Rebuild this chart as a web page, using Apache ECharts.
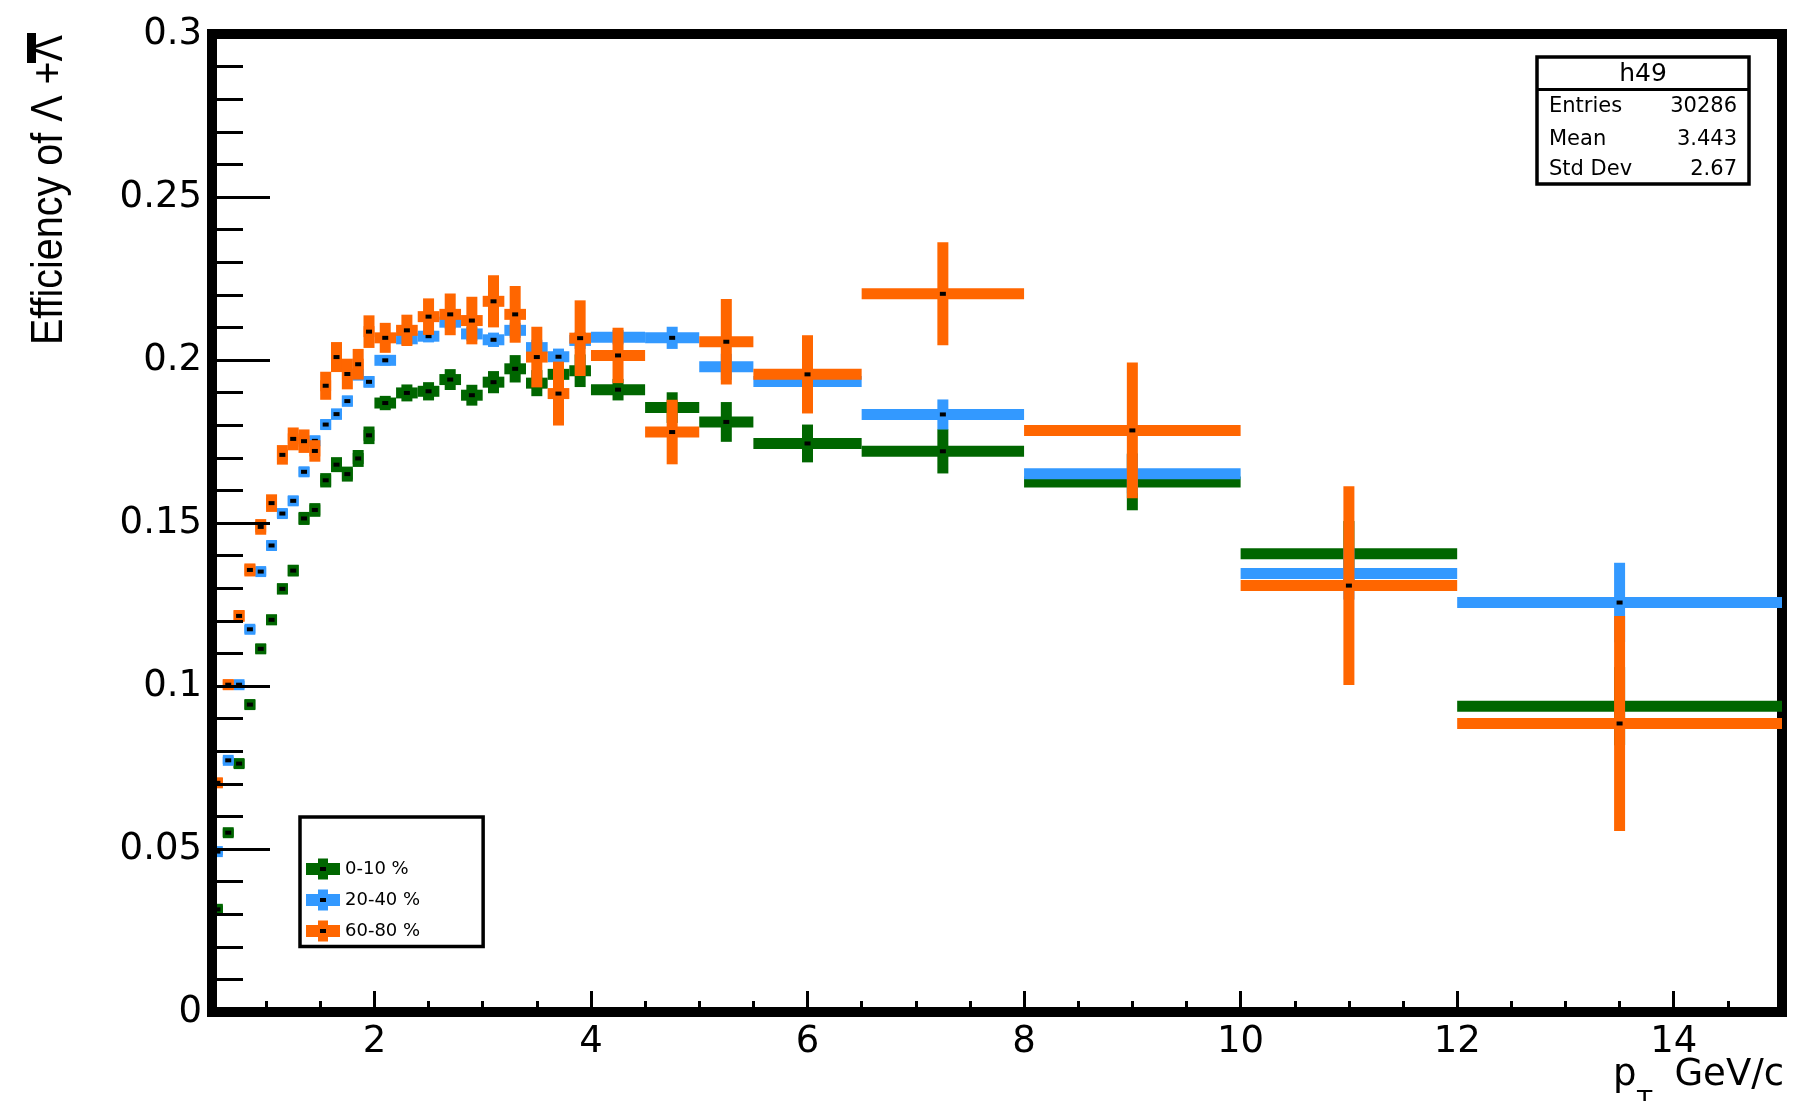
<!DOCTYPE html>
<html>
<head>
<meta charset="utf-8">
<title>Efficiency of Lambda + anti-Lambda vs pT</title>
<script src="https://cdn.jsdelivr.net/npm/echarts@6/dist/echarts.min.js"></script>
<style>
  html, body { margin: 0; padding: 0; background: #fff; }
  #chart { width: 1794px; height: 1101px; }
</style>
</head>
<body>
<div id="chart"></div>
<script>
// pT bin edges (GeV/c)
const binEdges = [0.5, 0.6, 0.7, 0.8, 0.9, 1.0, 1.1, 1.2, 1.3, 1.4, 1.5, 1.6, 1.7, 1.8, 1.9, 2.0,
  2.2, 2.4, 2.6, 2.8, 3.0, 3.2, 3.4, 3.6, 3.8, 4.0,
  4.5, 5.0, 5.5, 6.5, 8, 10, 12, 15];

const centralityLabels = ['0-10 %', '20-40 %', '60-80 %'];

// efficiency per bin and its uncertainty, 0-10 %
const eff0to10 = [0.0315, 0.0550, 0.0762, 0.0943, 0.1114, 0.1203, 0.1298, 0.1354, 0.1514, 0.1540,
  0.1631, 0.1679, 0.1650, 0.1698, 0.1769,
  0.1868, 0.1899, 0.1904, 0.1940, 0.1892, 0.1932, 0.1973, 0.1929, 0.1956, 0.1967,
  0.1909, 0.1854, 0.1810, 0.1744, 0.1720, 0.1626, 0.1406, 0.0938];
const err0to10 = [0.0012, 0.0013, 0.0014, 0.0015, 0.0015, 0.0016, 0.0017, 0.0018, 0.0020, 0.0021,
  0.0022, 0.0023, 0.0023, 0.0026, 0.0027,
  0.0022, 0.0026, 0.0028, 0.0032, 0.0032, 0.0034, 0.0042, 0.0040, 0.0045, 0.0050,
  0.0033, 0.0047, 0.0061, 0.0058, 0.0068, 0.0087, 0.0100, 0.0120];

// 20-40 %
const eff20to40 = [0.0492, 0.0772, 0.1004, 0.1174, 0.1351, 0.1431, 0.1529, 0.1568, 0.1657, 0.1752,
  0.1802, 0.1834, 0.1874, 0.1955, 0.1933,
  0.1999, 0.2065, 0.2073, 0.2116, 0.2080, 0.2062, 0.2091, 0.2038, 0.2010, 0.2060,
  0.2070, 0.2068, 0.1979, 0.1934, 0.1833, 0.1651, 0.1345, 0.1256];
const err20to40 = [0.0010, 0.0011, 0.0012, 0.0013, 0.0013, 0.0014, 0.0014, 0.0015, 0.0015, 0.0016,
  0.0016, 0.0017, 0.0017, 0.0018, 0.0018,
  0.0016, 0.0018, 0.0019, 0.0020, 0.0021, 0.0022, 0.0023, 0.0024, 0.0025, 0.0026,
  0.0022, 0.0034, 0.0040, 0.0042, 0.0046, 0.0060, 0.0080, 0.0122];

// 60-80 %
const eff60to80 = [0.0703, 0.1004, 0.1215, 0.1356, 0.1488, 0.1561, 0.1709, 0.1758, 0.1751, 0.1721,
  0.1921, 0.2009, 0.1957, 0.1987, 0.2087,
  0.2068, 0.2091, 0.2133, 0.2140, 0.2121, 0.2180, 0.2140, 0.2009, 0.1897, 0.2067,
  0.2014, 0.1779, 0.2056, 0.1956, 0.2203, 0.1784, 0.1308, 0.0885];
const err60to80 = [0.0015, 0.0016, 0.0018, 0.0020, 0.0024, 0.0027, 0.0030, 0.0035, 0.0036, 0.0033,
  0.0043, 0.0046, 0.0047, 0.0047, 0.0050,
  0.0046, 0.0048, 0.0056, 0.0064, 0.0073, 0.0080, 0.0087, 0.0093, 0.0098, 0.0116,
  0.0085, 0.0099, 0.0131, 0.0120, 0.0158, 0.0208, 0.0305, 0.0330];

const seriesColors = ['#006600', '#3399ff', '#ff6600'];

// axis tick labels
const xTickValues = [2, 4, 6, 8, 10, 12, 14];
const xTickLabels = ['2', '4', '6', '8', '10', '12', '14'];
const yTickLabels = ['0', '0.05', '0.1', '0.15', '0.2', '0.25', '0.3'];

// statistics box rows
const statsTitle = 'h49';
const statsRows = [['Entries', '30286'], ['Mean', '3.443'], ['Std Dev', '2.67']];

function toBins(values, errors) {
  return values.map((v, i) => [binEdges[i], binEdges[i + 1], v, errors[i]]);
}

// one histogram bin: horizontal bar over the bin width, vertical error bar, small black marker
const BAR = 11;
function renderBin(params, api) {
  const lo = api.value(0), hi = api.value(1), v = api.value(2), e = api.value(3);
  const mid = (lo + hi) / 2;
  const pL = api.coord([lo, v]);
  const pR = api.coord([hi, v]);
  const pTop = api.coord([mid, v + e]);
  const pBot = api.coord([mid, v - e]);
  const color = api.visual('color');
  return {
    type: 'group',
    children: [
      { type: 'rect', shape: { x: pL[0], y: pL[1] - BAR / 2, width: pR[0] - pL[0], height: BAR }, style: { fill: color } },
      { type: 'rect', shape: { x: pTop[0] - BAR / 2, y: pTop[1], width: BAR, height: pBot[1] - pTop[1] }, style: { fill: color } },
      { type: 'rect', shape: { x: pTop[0] - 3, y: pL[1] - 2, width: 6, height: 4 }, style: { fill: '#000' } }
    ]
  };
}

const seriesData = [
  toBins(eff0to10, err0to10),
  toBins(eff20to40, err20to40),
  toBins(eff60to80, err60to80)
];

const crossIcon = 'path://M0,4.5H34V16.5H0Z M12,0H22V21H12Z';
const labelFont = 'DejaVu Sans';
const legendRowsY = [869, 900, 931];

const chart = echarts.init(document.getElementById('chart'), null, { renderer: 'canvas' });

const option = {
  animation: false,
  backgroundColor: '#fff',
  grid: {
    left: 212, top: 34, width: 1570, height: 978,
    show: true, borderColor: '#000', borderWidth: 10, backgroundColor: 'transparent',
    containLabel: false, outerBoundsMode: 'none'
  },
  xAxis: [
    {
      type: 'value', min: 0.5, max: 15, interval: 0.5, position: 'bottom', z: 5,
      axisLine: { show: true, onZero: false, lineStyle: { color: '#000', width: 10 } },
      axisTick: { show: true, inside: true, length: 11, lineStyle: { color: '#000', width: 3 } },
      axisLabel: { show: false },
      splitLine: { show: false }
    },
    {
      type: 'value', min: 0.5, max: 15, position: 'bottom', offset: 0, z: 5,
      axisLine: { show: false, onZero: false },
      axisTick: { show: true, inside: true, length: 21, customValues: xTickValues, lineStyle: { color: '#000', width: 3 } },
      axisLabel: {
        show: true, customValues: xTickValues, margin: 12,
        fontFamily: labelFont, fontSize: 37, color: '#000',
        formatter: v => xTickLabels[xTickValues.indexOf(Math.round(v))] ?? ''
      },
      splitLine: { show: false }
    }
  ],
  yAxis: {
    type: 'value', min: 0, max: 0.3, interval: 0.05, z: 5,
    axisLine: { show: true, onZero: false, lineStyle: { color: '#000', width: 10 } },
    axisTick: { show: true, inside: true, length: 58, lineStyle: { color: '#000', width: 3 } },
    minorTick: { show: true, splitNumber: 5, length: 31, lineStyle: { color: '#000', width: 3 } },
    axisLabel: {
      margin: 10, fontFamily: labelFont, fontSize: 37, color: '#000',
      showMinLabel: true, showMaxLabel: true,
      formatter: v => yTickLabels[Math.round(v / 0.05)] ?? ''
    },
    splitLine: { show: false }
  },
  legend: {
    orient: 'vertical', left: 300, top: 817,
    padding: [41.5, 63, 5, 6], itemWidth: 34, itemHeight: 21, itemGap: 10,
    borderColor: '#000', borderWidth: 3.5, backgroundColor: '#fff',
    selectedMode: false,
    textStyle: { fontFamily: labelFont, fontSize: 18, color: '#000' },
    data: centralityLabels.map(name => ({ name, icon: crossIcon }))
  },
  series: centralityLabels.map((name, i) => ({
    name,
    type: 'custom',
    renderItem: renderBin,
    itemStyle: { color: seriesColors[i] },
    encode: { x: [0, 1], y: 2 },
    dimensions: ['lo', 'hi', 'eff', 'err'],
    data: seriesData[i],
    z: 2 + i
  })),
  graphic: [
    // y axis title
    {
      type: 'text', x: 50, y: 35, rotation: Math.PI / 2, scaleY: 1.13,
      style: { text: 'Efficiency of Λ +Λ', font: '39.5px "Liberation Sans"', fill: '#000', align: 'right', verticalAlign: 'middle' }
    },
    { type: 'rect', shape: { x: 27, y: 33, width: 9, height: 30 }, style: { fill: '#000' } },
    // x axis title
    { type: 'text', x: 1613, y: 1075, style: { text: 'p', font: '37px "DejaVu Sans"', fill: '#000', align: 'left', verticalAlign: 'middle' } },
    { type: 'text', x: 1637, y: 1101, style: { text: 'T', font: '25px "DejaVu Sans"', fill: '#000', align: 'left', verticalAlign: 'middle' } },
    { type: 'text', x: 1784, y: 1075, style: { text: 'GeV/c', font: '37px "DejaVu Sans"', fill: '#000', align: 'right', verticalAlign: 'middle' } },
    // statistics box
    { type: 'rect', z: 10, shape: { x: 1537, y: 57, width: 212, height: 127 }, style: { fill: '#fff', stroke: '#000', lineWidth: 3.5 } },
    { type: 'line', z: 10, shape: { x1: 1537, y1: 89.5, x2: 1749, y2: 89.5 }, style: { stroke: '#000', lineWidth: 3 } },
    { type: 'text', z: 10, x: 1643, y: 74, style: { text: statsTitle, font: '25px "DejaVu Sans"', fill: '#000', align: 'center', verticalAlign: 'middle' } }
  ].concat(statsRows.flatMap((row, i) => {
    const y = [107, 139.5, 170][i];
    return [
      { type: 'text', z: 10, x: 1549, y, style: { text: row[0], font: '21px "DejaVu Sans"', fill: '#000', align: 'left', verticalAlign: 'middle' } },
      { type: 'text', z: 10, x: 1737, y, style: { text: row[1], font: '21px "DejaVu Sans"', fill: '#000', align: 'right', verticalAlign: 'middle' } }
    ];
  })).concat(legendRowsY.map(y => ({
    type: 'rect', z: 100, shape: { x: 320, y: y - 2, width: 6, height: 4 }, style: { fill: '#000' }
  })))
};

chart.setOption(option);
</script>
</body>
</html>
